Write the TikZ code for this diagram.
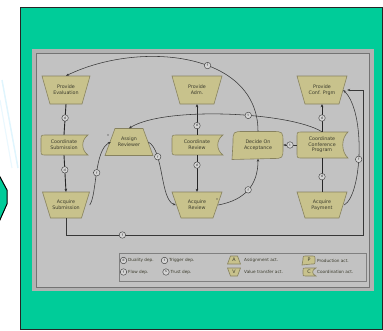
\documentclass[tikz,border=0pt]{standalone}
\usepackage{fontspec}
\setmainfont{DejaVu Sans}
\usetikzlibrary{arrows.meta}
\definecolor{teal1}{RGB}{0,204,153}
\definecolor{panelout}{RGB}{178,178,178}
\definecolor{panelin}{RGB}{194,194,194}
\definecolor{actfill}{RGB}{200,194,140}
\definecolor{actline}{RGB}{135,130,95}
\definecolor{acttext}{RGB}{60,60,45}
\definecolor{wire}{RGB}{55,55,55}
\tikzset{
 act/.style={fill=actfill, draw=actline, line width=0.6pt},
 acttext/.style={inner sep=0pt, align=center, text=acttext, font=\fontsize{4.8}{5.6}\selectfont},
 dep/.style={circle, draw=wire, fill=panelin!70!white, line width=0.4pt, minimum size=6.5pt, inner sep=0pt, font=\fontsize{3.5}{3.5}\selectfont, text=wire},
 flow/.style={draw=wire, line width=0.55pt, -{Stealth[length=3pt,width=2.4pt]}},
 flowplain/.style={draw=wire, line width=0.55pt},
 dual/.style={draw=black!85, line width=0.9pt},
 dualarrow/.style={dual, -{Stealth[length=3pt,width=2.6pt]}},
 legtext/.style={inner sep=0pt, anchor=west, text=acttext, font=\fontsize{4.2}{4.6}\selectfont},
 cardmark/.style={inner sep=0pt, text=wire, font=\fontsize{4}{4}\selectfont},
}
% value transfer act (wide top)
\newcommand\vact[7]{%
 \filldraw[act] ({#2-#4/2},{#3-#5/2}) -- ({#2+#4/2},{#3-#5/2}) -- ({#2+#4/2-#6},{#3+#5/2}) -- ({#2-#4/2+#6},{#3+#5/2}) -- cycle;
 \node[acttext, minimum width=#4pt, minimum height=#5pt] (#1) at (#2,#3) {#7};}
% assignment act (narrow top)
\newcommand\aact[7]{%
 \filldraw[act] ({#2-#4/2+#6},{#3-#5/2}) -- ({#2+#4/2-#6},{#3-#5/2}) -- ({#2+#4/2},{#3+#5/2}) -- ({#2-#4/2},{#3+#5/2}) -- cycle;
 \node[acttext, minimum width=#4pt, minimum height=#5pt] (#1) at (#2,#3) {#7};}
% coordination act
\newcommand\cact[7]{%
 \filldraw[act] ({#2+#4/2+1},{#3-#5/2}) -- ({#2-#4/2+#6},{#3-#5/2}) .. controls ({#2-#4/2},{#3-#5/2}) .. ({#2-#4/2},{#3-#5/2+#6}) -- ({#2-#4/2},{#3+#5/2-#6}) .. controls ({#2-#4/2},{#3+#5/2}) .. ({#2-#4/2+#6},{#3+#5/2}) -- ({#2+#4/2+1},{#3+#5/2}) .. controls ({#2+#4/2-#6-1},{#3+#5/4}) and ({#2+#4/2-#6-1},{#3-#5/4}) .. cycle;
 \node[acttext, minimum width=#4pt, minimum height=#5pt] (#1) at (#2,#3) {#7};}
% production act
\newcommand\pact[7]{%
 \filldraw[act] ({#2-#4/2-1},{#3+#5/2+1}) -- ({#2-#4/2},{#3-#5/2+#6}) .. controls ({#2-#4/2},{#3-#5/2}) .. ({#2-#4/2+#6},{#3-#5/2}) -- ({#2+#4/2-#6},{#3-#5/2}) .. controls ({#2+#4/2},{#3-#5/2}) .. ({#2+#4/2},{#3-#5/2+#6}) -- ({#2+#4/2},{#3+#5/2-#6}) .. controls ({#2+#4/2},{#3+#5/2}) .. ({#2+#4/2-#6},{#3+#5/2}) -- cycle;
 \node[acttext, minimum width=#4pt, minimum height=#5pt] (#1) at (#2,#3) {#7};}
\begin{document}
\begin{tikzpicture}[x=1pt,y=-1pt]
\useasboundingbox (0,0) rectangle (383,330);
% left decoration
\draw[draw=cyan!12, line width=1.5pt] (2,80) -- (18,168);
\draw[draw=cyan!8, line width=1.2pt] (0,100) -- (12,168);
\filldraw[fill=teal1, draw=black, line width=1pt] (-1,175) -- (7,190) -- (7,204) -- (-1,222) -- cycle;
% teal box
\filldraw[fill=teal1, draw=black!85, line width=1pt] (20.5,7.5) rectangle (382.5,329.5);
% panel
\fill[panelout] (32,49) rectangle (374,291);
\filldraw[fill=panelin, draw=black!55, line width=0.6pt] (36,53) rectangle (369,287);

% activities
\vact{PE}{66}{90}{48}{28}{8}{Provide\\Evaluation}
\vact{PA}{197}{90}{50}{28}{8}{Provide\\Adm.}
\vact{PC}{322}{90}{50}{28}{8}{Provide\\Conf. Prgm}
\cact{CS}{64}{145}{46}{20}{5}{Coordinate\\Submission}
\aact{AR}{129}{142}{48}{27}{10}{Assign\\Reviewer}
\cact{CR}{197}{145}{50}{20}{5}{Coordinate\\Review}
\pact{DA}{258}{145}{50}{27}{11}{Decide On\\Acceptance}
\cact{CC}{322}{145}{50}{26}{5}{Coordinate\\Conference\\Program}
\vact{AS}{66}{205}{47}{26}{8}{Acquire\\Submission}
\vact{AQ}{197}{205}{50}{26}{9}{Acquire\\Review}
\vact{AP}{322}{205}{50}{26}{8}{Acquire\\Payment}

% duality dependencies
\draw[dual] (PE.south) -- node[dep,pos=0.45] (d1) {d} (CS.north);
\draw[dualarrow] (CS.south) -- node[dep,pos=0.4] (d2) {d} (AS.north);
\draw[dualarrow] (CR.north) -- node[dep,pos=0.3] (d3) {d} (PA.south);
\draw[dualarrow] (CR.south) -- node[dep,pos=0.27] (d4) {d} (AQ.north);
\draw[dualarrow] (CC.north) -- node[dep,pos=0.5] (d5) {d} (PC.south);
\draw[dual] (CC.south) -- node[dep,pos=0.55] (d6) {d} (AP.north);

% trigger dependencies
\draw[flow] (CC.west) -- node[dep] (t1) {t} (DA.east);
\draw[flow] (CC.north) .. controls (290,112) and (165,106) .. node[dep,pos=0.41] (t2) {t} (AR.north);

% flow dependencies
\draw[flow] (DA.north) .. controls (258,52) and (140,40) .. node[dep,pos=0.42] (f1) {f} (PE.north);
\draw[flow] (AS.east) .. controls (97,195) and (94,150) .. node[dep,pos=0.5] (f2) {f} ([xshift=6pt]AR.west);
\draw[flow] ([xshift=-5pt]AR.east) .. controls (164,150) and (160,200) .. node[dep,pos=0.28] (f3) {f} ([xshift=4pt]AQ.west);
\draw[flow] ([xshift=-4pt]AQ.east) .. controls (245,200) and (258,185) .. node[dep,pos=0.5] (f4) {f} (DA.south);
\draw[flow] ([xshift=-3pt]AP.east) .. controls (362,195) and (366,112) .. node[dep,pos=0.45] (f5) {f} ([xshift=-4pt]PC.east);
\coordinate (b1) at (66,235);
\coordinate (b2) at (363,235);
\coordinate (b3) at (363,90);
\draw[flowplain] (AS.south) -- (b1) -- node[dep,pos=0.19] (f6) {f} (b2) -- (b3);
\draw[flow] (b3) -- (PC.east);

% cardinality marks
\node[cardmark] (m1) at (108,136) {*};
\node[cardmark] (m2) at (217,200) {*};

% legend
\draw[draw=black!50, line width=0.5pt] (119,253) rectangle (366,281);
\node[dep] (lg1) at (123.5,260.5) {d};
\node[legtext] (lt1) at (128,260.5) {Duality dep.};
\node[dep] (lg2) at (164.5,260.5) {t};
\node[legtext] (lt2) at (169,260.5) {Trigger dep.};
\node[dep] (lg3) at (123.5,272) {f};
\node[legtext] (lt3) at (128,272) {Flow dep.};
\node[dep] (lg4) at (166,272) {s};
\node[legtext] (lt4) at (170.5,272) {Trust dep.};
\aact{lA}{234}{260}{13}{8}{3}{A}
\node[legtext] (lt5) at (244,260.5) {Assignment act.};
\vact{lV}{234}{272}{13}{8}{3}{V}
\node[legtext] (lt6) at (244,272) {Value transfer act.};
\pact{lP}{309}{260}{12}{8}{3.5}{P}
\node[legtext] (lt7) at (317,260.5) {Production act.};
\cact{lC}{309}{272}{12}{8}{2.5}{C}
\node[legtext] (lt8) at (317,272) {Coordination act.};
\end{tikzpicture}
\end{document}
